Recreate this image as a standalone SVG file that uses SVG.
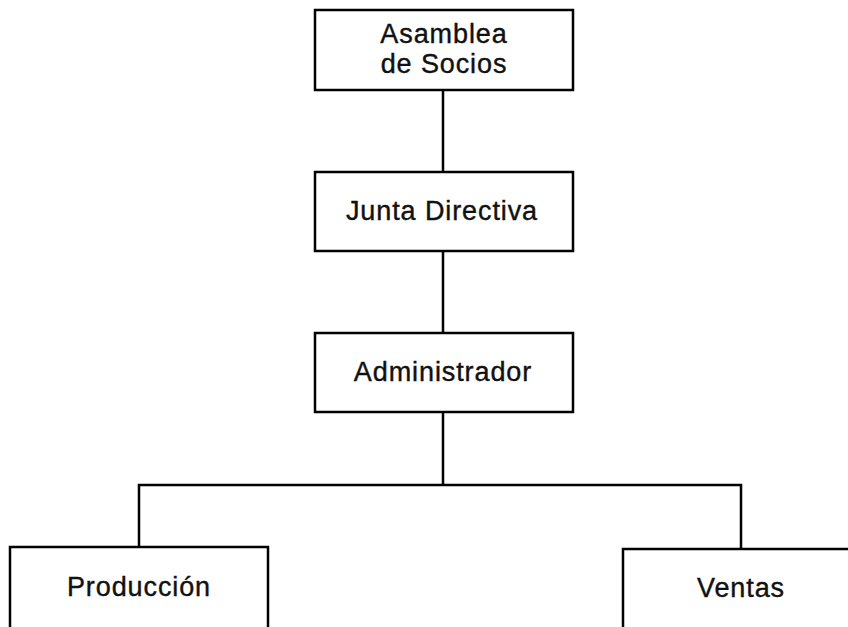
<svg xmlns="http://www.w3.org/2000/svg" width="848" height="627" viewBox="0 0 848 627">
<style>
.box{fill:#fff;stroke:#000;stroke-width:2.5}
.ln{fill:none;stroke:#000;stroke-width:2.5}
text{font-family:"Liberation Sans",Arial,sans-serif;font-size:27px;fill:#111;stroke:#111;stroke-width:0.4;text-anchor:middle;letter-spacing:0.9px}
</style>
<rect width="848" height="627" fill="#fff"/>
<g id="connectors">
<line class="ln" x1="443" y1="90" x2="443" y2="172"/>
<line class="ln" x1="443" y1="251" x2="443" y2="333"/>
<line class="ln" x1="443" y1="412" x2="443" y2="485"/>
<polyline class="ln" points="139,547 139,485 741,485 741,549"/>
</g>
<g id="asamblea">
<rect class="box" x="315" y="10" width="258" height="80"/>
<text x="444" y="43">Asamblea</text>
<text x="444" y="73">de Socios</text>
</g>
<g id="junta">
<rect class="box" x="315" y="172" width="258" height="79"/>
<text x="442" y="220">Junta Directiva</text>
</g>
<g id="administrador">
<rect class="box" x="315" y="333" width="258" height="79"/>
<text x="443" y="381">Administrador</text>
</g>
<g id="produccion">
<rect class="box" x="10" y="547" width="258" height="90"/>
<text x="139" y="596">Producción</text>
</g>
<g id="ventas">
<rect class="box" x="623" y="549" width="240" height="90"/>
<text x="741" y="597">Ventas</text>
</g>
</svg>
